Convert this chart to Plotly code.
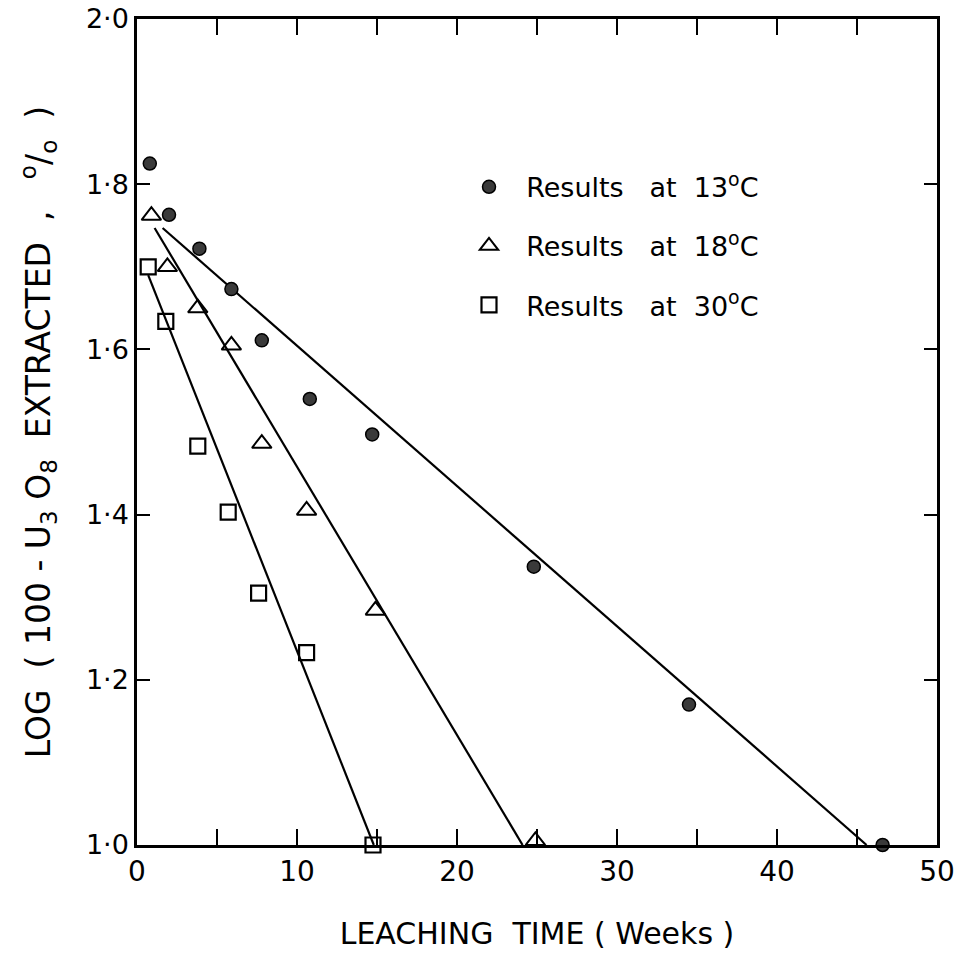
import plotly.graph_objects as go

# 13 deg C (filled circles)
x13 = [0.8, 2.0, 3.9, 5.9, 7.8, 10.8, 14.7, 24.8, 34.5, 46.6]
y13 = [1.825, 1.763, 1.722, 1.673, 1.611, 1.540, 1.497, 1.337, 1.170, 1.0]
# 18 deg C (open triangles)
x18 = [0.9, 1.9, 3.8, 5.9, 7.8, 10.6, 14.9, 24.9]
y18 = [1.762, 1.700, 1.650, 1.605, 1.486, 1.405, 1.284, 1.005]
# 30 deg C (open squares)
x30 = [0.7, 1.8, 3.8, 5.7, 7.6, 10.6, 14.75]
y30 = [1.700, 1.634, 1.483, 1.403, 1.305, 1.233, 1.0]

# fitted straight lines (end points)
fit13_x = [1.6, 45.6]
fit13_y = [1.747, 1.0]
fit18_x = [1.1, 24.1]
fit18_y = [1.747, 1.0]
fit30_x = [0.7, 14.8]
fit30_y = [1.69, 1.0]

xtick_vals = [0, 5, 10, 15, 20, 25, 30, 35, 40, 45, 50]
xtick_text = ["0", "", "10", "", "20", "", "30", "", "40", "", "50"]
ytick_vals = [1.0, 1.2, 1.4, 1.6, 1.8, 2.0]
ytick_text = ["1·0", "1·2", "1·4", "1·6", "1·8", "2·0"]

names = ["  Results   at  13<sup>o</sup>C", "  Results   at  18<sup>o</sup>C", "  Results   at  30<sup>o</sup>C"]

FONT = "DejaVu Sans"
fig = go.Figure()
for fx, fy in [(fit13_x, fit13_y), (fit18_x, fit18_y), (fit30_x, fit30_y)]:
    fig.add_trace(go.Scatter(x=fx, y=fy, mode="lines", line=dict(color="black", width=2.2),
                             showlegend=False, hoverinfo="skip", cliponaxis=False))

fig.add_trace(go.Scatter(x=x13, y=y13, mode="markers", name=names[0], legendgroup="a",
                         marker=dict(symbol="circle", size=13, color="#3a3a3a",
                                     line=dict(color="black", width=1.5)), cliponaxis=False))
fig.add_trace(go.Scatter(x=x18, y=y18, mode="markers", name=names[1], legendgroup="b",
                         marker=dict(symbol="triangle-up-open", size=17, color="black",
                                     line=dict(color="black", width=2)), cliponaxis=False))
fig.add_trace(go.Scatter(x=x30, y=y30, mode="markers", name=names[2], legendgroup="c",
                         marker=dict(symbol="square-open", size=15, color="black",
                                     line=dict(color="black", width=2.2)), cliponaxis=False))

fig.update_layout(
    width=958, height=954,
    margin=dict(l=137, r=21, t=19, b=109),
    paper_bgcolor="white", plot_bgcolor="white",
    font=dict(family=FONT, color="black", size=22),
    showlegend=True,
    legend=dict(x=0.415, y=0.826, xanchor="left", yanchor="top", bgcolor="rgba(0,0,0,0)",
                font=dict(size=27, family=FONT), tracegroupgap=21, itemwidth=30),
    xaxis=dict(range=[0, 50], tickvals=xtick_vals, ticktext=xtick_text,
               ticks="inside", ticklen=16, tickwidth=2, tickcolor="black",
               showline=True, linecolor="black", linewidth=2.5, mirror="ticks",
               showgrid=False, zeroline=False, automargin=False,
               tickfont=dict(size=28, family=FONT),
               title=dict(text="LEACHING  TIME ( Weeks )", font=dict(size=30, family=FONT), standoff=36)),
    yaxis=dict(range=[1.0, 2.0], tickvals=ytick_vals, ticktext=ytick_text,
               ticks="inside", ticklen=13, tickwidth=2, tickcolor="black",
               showline=True, linecolor="black", linewidth=2.5, mirror="ticks",
               showgrid=False, zeroline=False, automargin=False,
               tickfont=dict(size=27, family=FONT),
               title=dict(text="LOG  ( 100 - U<sub>3</sub> O<sub>8</sub>  EXTRACTED  ,   <sup>o</sup>/<sub>o</sub>  )\u00a0\u00a0\u00a0",
                          font=dict(size=33, family=FONT), standoff=26)),
)

fig.write_html("out.html")
